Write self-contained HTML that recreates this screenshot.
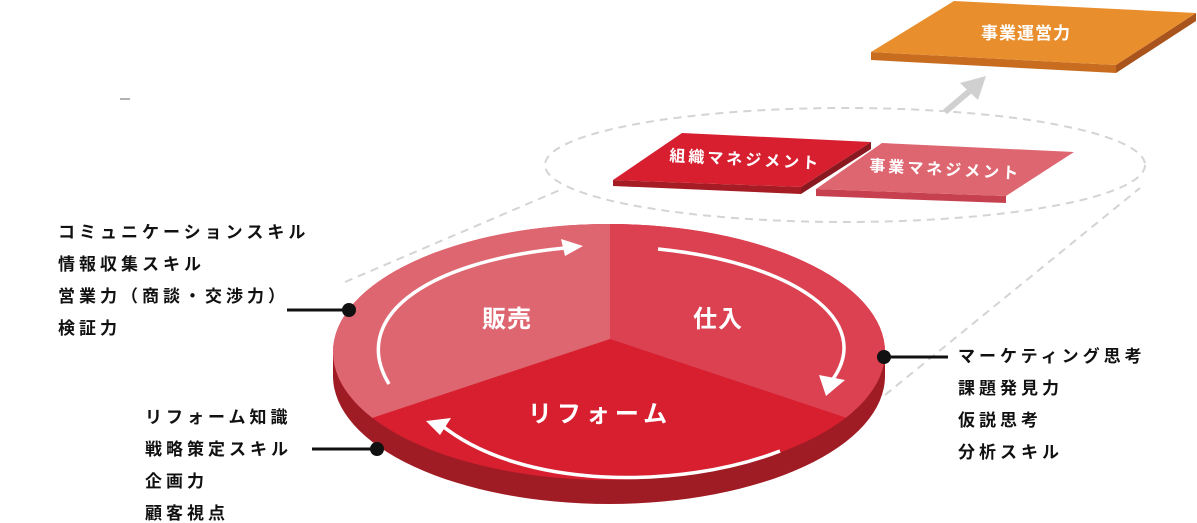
<!DOCTYPE html>
<html><head><meta charset="utf-8"><style>
html,body{margin:0;padding:0;background:#fff;}
svg{display:block;}
text{font-family:"Liberation Sans","Noto Sans CJK JP",sans-serif;}
.l{font-size:17px;font-weight:bold;fill:#111;letter-spacing:4px;}
.w{fill:#fff;font-weight:bold;}
</style></head><body>
<svg width="1197" height="523" viewBox="0 0 1197 523" xmlns="http://www.w3.org/2000/svg">
<ellipse cx="845" cy="165" rx="300" ry="57" fill="none" stroke="#d4d4d4" stroke-width="2" stroke-dasharray="8 6"/>
<line x1="345" y1="282" x2="560" y2="190" stroke="#d4d4d4" stroke-width="2" stroke-dasharray="8 6"/>
<line x1="885" y1="395" x2="1140" y2="188" stroke="#d4d4d4" stroke-width="2" stroke-dasharray="8 6"/>
<line x1="120" y1="99" x2="130" y2="99" stroke="#999" stroke-width="1.5"/>
<line x1="945" y1="112" x2="972" y2="89" stroke="#d0d0d0" stroke-width="6"/>
<polygon points="960,83 986,76 978,100" fill="#d0d0d0"/>
<polygon points="871,52 1116,65 1116,73 871,60" fill="#c86d20"/>
<polygon points="1116,65 1196,13 1196,21 1116,73" fill="#a9541c"/>
<polygon points="871,52 954,1 1196,13 1116,65" fill="#e88e2c"/>
<text x="1026" y="39" class="w" font-size="17" text-anchor="middle" letter-spacing="1">事業運営力</text>
<polygon points="613,180 801,187 801,194 613,186" fill="#a51c24"/>
<polygon points="801,187 871,142 871,149 801,194" fill="#8a1820"/>
<polygon points="613,180 682,133 871,142 801,187" fill="#d71f30"/>
<text x="745" y="165" class="w" font-size="16" text-anchor="middle" letter-spacing="3" transform="rotate(3 745 165)">組織マネジメント</text>
<polygon points="816,189 1006,196 1006,203 816,196" fill="#c64050"/>
<polygon points="816,189 882,143 1074,152 1006,196" fill="#de6670"/>
<text x="945" y="175" class="w" font-size="16" text-anchor="middle" letter-spacing="3" transform="rotate(3 945 175)">事業マネジメント</text>
<ellipse cx="609" cy="376" rx="276" ry="128" fill="#a01c24"/>
<path d="M333,352 L333,376 L885,376 L885,352 Z" fill="#a01c24"/>
<ellipse cx="609" cy="352" rx="276" ry="128" fill="#d71f30"/>
<clipPath id="c"><ellipse cx="609" cy="352" rx="276" ry="128"/></clipPath>
<g clip-path="url(#c)">
<polygon points="610,339 610,200 300,200 300,430 372,418" fill="#de6670"/>
<polygon points="610,339 610,200 920,200 920,430 847,418" fill="#db4150"/>
</g>
<g fill="none" stroke="#fff" stroke-width="3.5">
<path d="M389,384 C350,320 420,262 565,248"/>
<path d="M658,249 C790,262 880,320 830,383"/>
<path d="M780,451 C680,490 520,490 440,424"/>
</g>
<g fill="#fff">
<polygon points="583,246 561,239 565,256"/>
<polygon points="826,396 819,375 845,380"/>
<polygon points="426,421 451,418 440,435"/>
</g>
<text x="507" y="327" class="w" font-size="24" text-anchor="middle" letter-spacing="1">販売</text>
<text x="718" y="327" class="w" font-size="24" text-anchor="middle" letter-spacing="1">仕入</text>
<text x="600" y="422" class="w" font-size="24" text-anchor="middle" letter-spacing="5">リフォーム</text>
<g stroke="#111" stroke-width="3">
<line x1="287" y1="310" x2="349" y2="310"/>
<line x1="312" y1="449" x2="377" y2="449"/>
<line x1="884" y1="357" x2="948" y2="357"/>
</g>
<g fill="#111">
<circle cx="349" cy="310" r="7"/>
<circle cx="377" cy="449" r="7"/>
<circle cx="884" cy="357" r="7"/>
</g>
<text class="l" x="58" y="238">コミュニケーションスキル</text>
<text class="l" x="58" y="270">情報収集スキル</text>
<text class="l" x="58" y="302">営業力（商談・交渉力）</text>
<text class="l" x="58" y="334">検証力</text>
<text class="l" x="145" y="423">リフォーム知識</text>
<text class="l" x="145" y="455">戦略策定スキル</text>
<text class="l" x="145" y="487">企画力</text>
<text class="l" x="145" y="519">顧客視点</text>
<text class="l" x="958" y="362">マーケティング思考</text>
<text class="l" x="958" y="394">課題発見力</text>
<text class="l" x="958" y="426">仮説思考</text>
<text class="l" x="958" y="458">分析スキル</text>
</svg>
</body></html>
